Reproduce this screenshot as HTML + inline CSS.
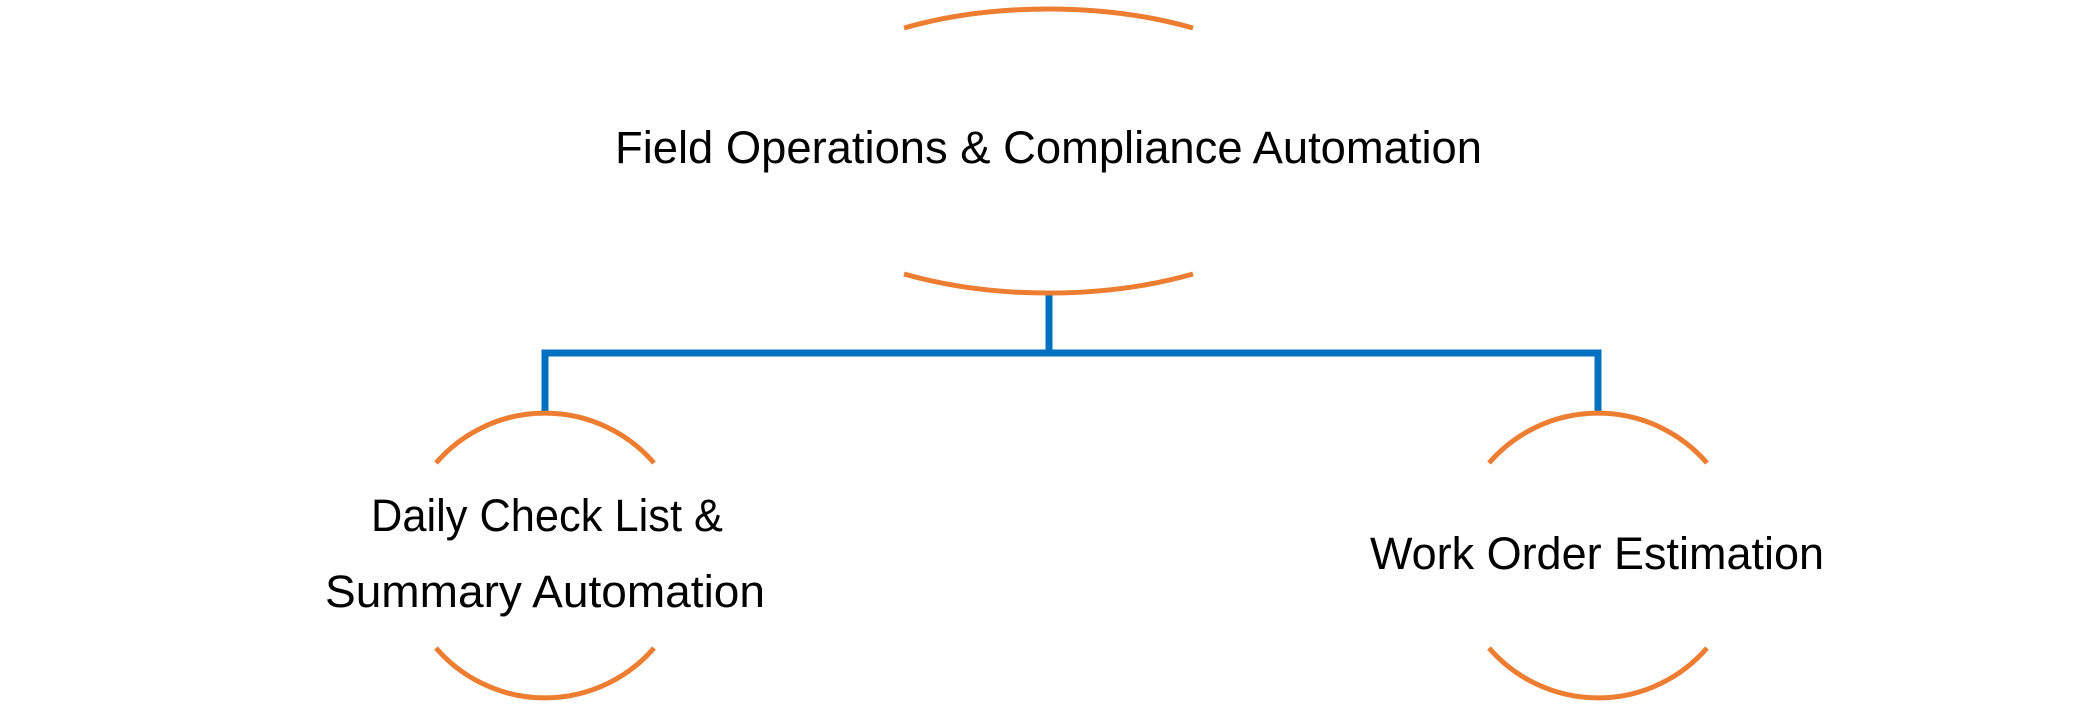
<!DOCTYPE html>
<html><head><meta charset="utf-8"><style>
html,body{margin:0;padding:0;background:#fff;}
svg{display:block;}
text{font-family:"Liberation Sans",sans-serif;fill:#000;}
</style></head><body>
<svg width="2098" height="710" viewBox="0 0 2098 710" xmlns="http://www.w3.org/2000/svg">
<g fill="none" stroke="#0070C0" stroke-width="7">
<path d="M1049,293 V353"/>
<path d="M545,413 V353 H1598 V413"/>
</g>
<g fill="none" stroke="#ED7D31" stroke-width="5">
<path d="M904,28 A289,142 0 0 1 1193,28"/>
<path d="M904,274 A289,142 0 0 0 1193,274"/>
<path d="M436,463 A144,144 0 0 1 654,463"/>
<path d="M436,648 A144,144 0 0 0 654,648"/>
<path d="M1489,463 A144,144 0 0 1 1707,463"/>
<path d="M1489,648 A144,144 0 0 0 1707,648"/>
</g>
<text x="615" y="163" font-size="45" textLength="867" lengthAdjust="spacingAndGlyphs">Field Operations &amp; Compliance Automation</text>
<text x="371" y="531" font-size="45" textLength="352" lengthAdjust="spacingAndGlyphs">Daily Check List &amp;</text>
<text x="325" y="607" font-size="45" textLength="440" lengthAdjust="spacingAndGlyphs">Summary Automation</text>
<text x="1370" y="569" font-size="45" textLength="454" lengthAdjust="spacingAndGlyphs">Work Order Estimation</text>
</svg>
</body></html>
